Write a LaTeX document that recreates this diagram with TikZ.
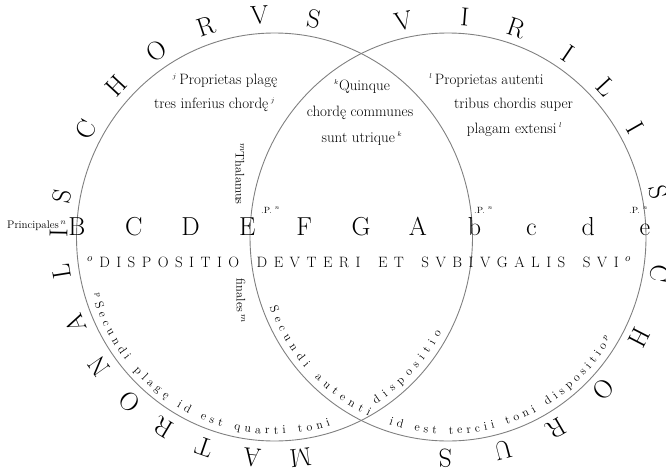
\documentclass[tikz,border=0pt]{standalone}
\usepackage{fontspec}
\usetikzlibrary{decorations.text}

\begin{document}
\begin{tikzpicture}[x=1pt,y=1pt,
  ring/.style={draw=black!50,line width=0.9pt},
  key/.style={font=\fontsize{26}{26}\selectfont,inner sep=0pt,anchor=base},
  rim/.style={font=\fontsize{26}{26}\selectfont,inner sep=0pt},
  gloss/.style={font=\fontsize{15}{15}\selectfont,inner sep=0pt,anchor=base},
  side/.style={font=\fontsize{12.5}{12.5}\selectfont,inner sep=0pt,rotate=-90},
  tag/.style={font=\fontsize{9}{9}\selectfont,inner sep=0pt,anchor=base west},
  spread/.style n args={2}{decorate,decoration={text along path,text align={fit to path},
    text={|\fontsize{#1}{#1}\selectfont|#2}}}]
\useasboundingbox (0,0) rectangle (666,-471);
\coordinate (L) at (274.5,-237);
\coordinate (R) at (448,-237);
\draw[ring] (L) ellipse [x radius=198,y radius=204];
\draw[ring] (R) ellipse [x radius=198,y radius=204];
% the eleven chords
\foreach \ch [count=\i from 0] in {B,C,D,E,F,G,A,b,c,d,e}
  \node[key] (chord\i) at ({77+56.8*\i},-235) {\ch};
\node[tag,font=\fontsize{11}{11}\selectfont] (princ) at (7,-228) {Principales\,$^{n}$};
\node[tag] (finE) at (261,-213) {.P.\ $^{n}$};
\node[tag] (finb) at (474,-213) {.P.\ $^{n}$};
\node[tag] (fine) at (629,-213) {.P.\ $^{n}$};
\coordinate (dispoW) at (87,-267);
\coordinate (dispoE) at (631,-267);
\path[spread={15}{{$^{o}$}DISPOSITIO DEVTERI ET SVBIVGALIS SVI{$^{o}$}}] (dispoW) -- (dispoE);
\node[side] (thal) at (240,-174) {$^{m}$Thalamus};
\node[side] (fin) at (241,-301) {finales\,$^{m}$};
% glosses
\node[gloss] (plag1) at (225,-84) {$^{\scriptscriptstyle j}$\,Proprietas plagę};
\node[gloss] (plag2) at (214.5,-108) {tres inferius chordę\,$^{\scriptscriptstyle j}$};
\node[gloss] (comm1) at (362,-90) {$^{\scriptscriptstyle k}$Quinque};
\node[gloss] (comm2) at (360,-116) {chordę communes};
\node[gloss] (comm3) at (362,-142) {sunt utrique\,$^{\scriptscriptstyle k}$};
\node[gloss] (aut1) at (486.5,-84) {$^{\scriptscriptstyle l}$\,Proprietas autenti};
\node[gloss] (aut2) at (513.5,-108) {tribus chordis super};
\node[gloss] (aut3) at (514.5,-133) {plagam extensi\,$^{\scriptscriptstyle l}$};
% outer rims
\begin{scope}[shift={(L)}]
\foreach \ch/\a [count=\i] in {M/-83,A/-96,T/-109,R/-121,O/-132,N/-144.5,A/-157,L/-171,I/-181,S/-190.5,%
  C/151,H/137,O/123,R/108.5,V/94,S/79.5}
  \node[rim,rotate=\a-90] (mat\i) at (\a:216 and 222) {\ch};
\end{scope}
\begin{scope}[shift={(R)}]
\foreach \ch/\a [count=\i] in {V/102,I/85.5,R/71.3,I/56,L/42.7,I/29.6,S/11.6,%
  C/-9.5,H/-27.2,O/-43.5,R/-59.9,U/-75.2,S/-90.8}
  \node[rim,rotate=\a-90] (vir\i) at (\a:215 and 221) {\ch};
\end{scope}
% inner arcs
\path[spread={12}{{$^{p}$}Secundi plagę id est quarti toni}]
  ([shift={(197:191 and 197)}]L) arc[start angle=197,end angle=287,x radius=191,y radius=197];
\path[spread={12}{Secundi autenti}]
  ([shift={(201:191 and 197)}]R) arc[start angle=201,end angle=245.5,x radius=191,y radius=197];
\path[spread={12}{dispositio}]
  ([shift={(-58:191 and 197)}]L) arc[start angle=-58,end angle=-29,x radius=191,y radius=197];
\path[spread={12}{id est tercii toni dispositio{$^{p}$}}]
  ([shift={(252:191 and 197)}]R) arc[start angle=252,end angle=329,x radius=191,y radius=197];
\end{tikzpicture}
\end{document}
